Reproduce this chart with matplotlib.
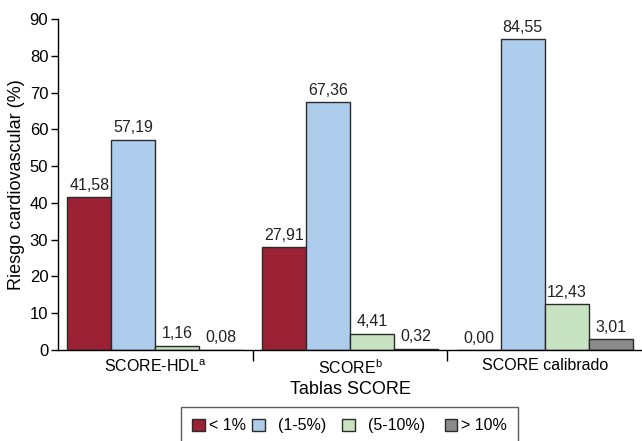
import numpy as np
import matplotlib.pyplot as plt

plt.rcParams['font.family'] = ['Liberation Sans', 'DejaVu Sans']
plt.rcParams['mathtext.fontset'] = 'custom'
plt.rcParams['mathtext.rm'] = 'Liberation Sans'

# categorias y series
categorias = ['SCORE-HDL$^{\\mathregular{a}}$', 'SCORE$^{\\mathregular{b}}$', 'SCORE calibrado']
series = ['< 1%', '  (1-5%)  ', '  (5-10%)   ', '> 10%']
menor_1 = [41.58, 27.91, 0.00]
entre_1_5 = [57.19, 67.36, 84.55]
entre_5_10 = [1.16, 4.41, 12.43]
mayor_10 = [0.08, 0.32, 3.01]
colores = ['#9b2235', '#aecdec', '#c7e3c1', '#8a8a8a']

valores = [menor_1, entre_1_5, entre_5_10, mayor_10]

fig = plt.figure(figsize=(6.42, 4.41), dpi=100)
ax = fig.add_axes([58 / 642, 1 - 350 / 441, 1 - 58 / 642, (350 - 19) / 441])

x = np.arange(len(categorias))
ancho = 0.226
for i, (vals, col, nombre) in enumerate(zip(valores, colores, series)):
    pos = x + (i - 1.5) * ancho
    ax.bar(pos, vals, ancho, color=col, edgecolor='#2b2b2b', linewidth=1.0, label=nombre)
    for p, v in zip(pos, vals):
        ax.text(p, v + 1.2, f'{v:.2f}'.replace('.', ','), ha='center', va='bottom',
                fontsize=11.5, color='#222222')

ax.set_xlim(-0.5, 2.5)
ax.set_ylim(0, 90)
ax.set_yticks(range(0, 91, 10))
ax.set_xticks(x)
ax.set_xticklabels(categorias, fontsize=11.5)
ax.set_xticks([0.5, 1.5], minor=True)
ax.tick_params(axis='x', which='major', length=0, pad=6)
ax.tick_params(axis='x', which='minor', length=8, width=1, direction='out')
ax.tick_params(axis='y', labelsize=12, length=5, width=1, pad=2)
for s in ['top', 'right']:
    ax.spines[s].set_visible(False)
for s in ['left', 'bottom']:
    ax.spines[s].set_linewidth(1)

ax.set_xlabel('Tablas SCORE', fontsize=13, labelpad=3)
ax.set_ylabel('Riesgo cardiovascular (%)', fontsize=13, labelpad=3)

leg = fig.legend(loc='upper left', bbox_to_anchor=(181 / 642, 1 - 407 / 441), ncol=4,
                 frameon=True, fancybox=False, edgecolor='#333333', fontsize=11.5,
                 handlelength=0.8, handleheight=0.8, handletextpad=0.25,
                 columnspacing=0.4, borderpad=0.7, borderaxespad=0)
leg.get_frame().set_linewidth(1)

fig.savefig('out.png', dpi=100)
